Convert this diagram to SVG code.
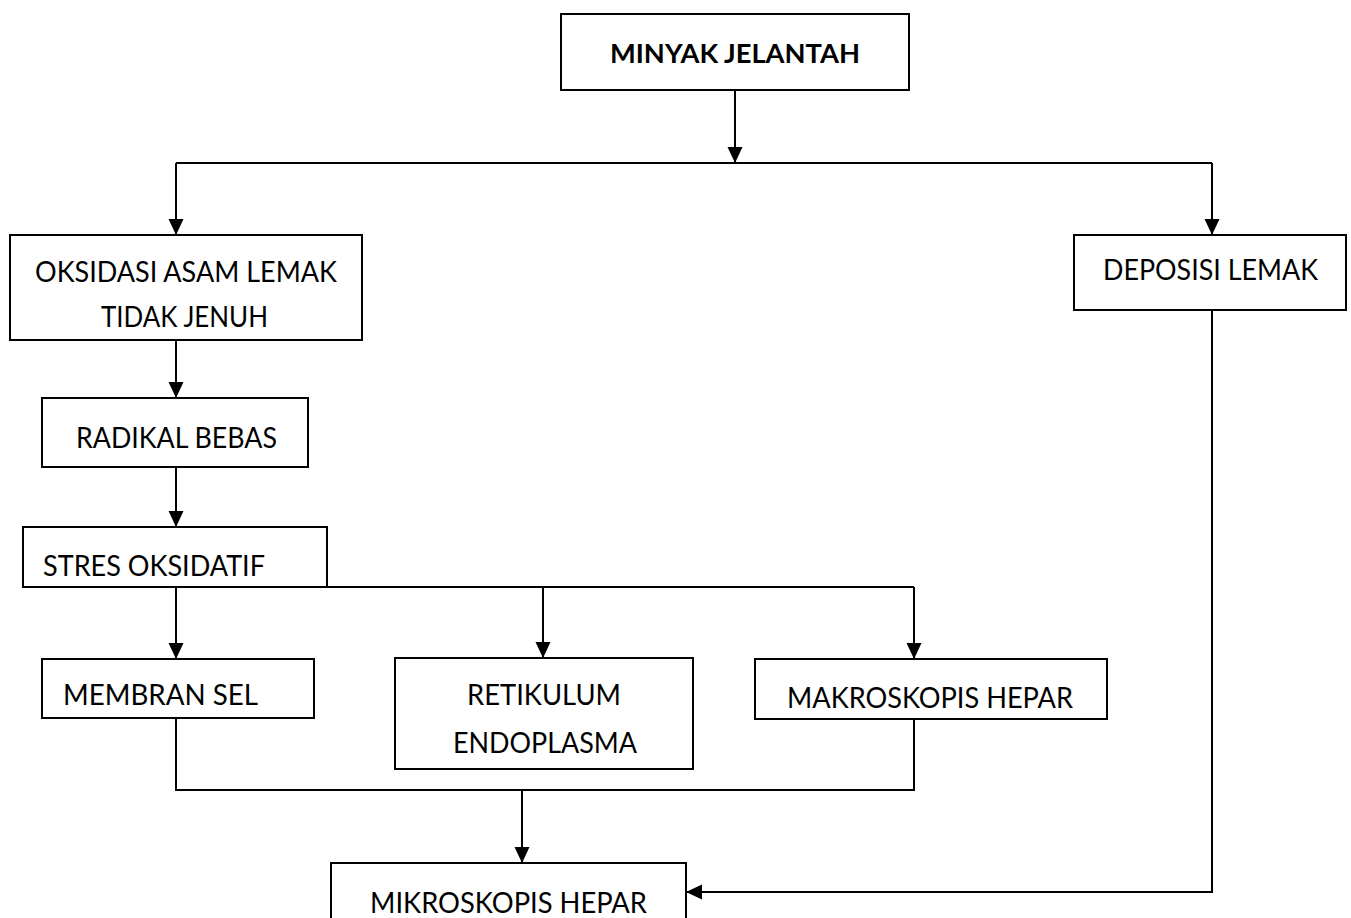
<svg xmlns="http://www.w3.org/2000/svg" width="1351" height="918" viewBox="0 0 1351 918">
<style>
.box{fill:#fff;stroke:#000;stroke-width:2}
.t{font-family:Lato,"Open Sans","Liberation Sans",sans-serif;font-size:28px;fill:#000}
.b{font-weight:bold;font-size:26px}
.c{fill:none;stroke:#000;stroke-width:2}
</style>
<defs>
<marker id="ah" markerUnits="userSpaceOnUse" markerWidth="16" markerHeight="16" viewBox="0 0 16 16" refX="16" refY="8" orient="auto">
<path d="M0,0.5 L16,8 L0,15.5 Z" fill="#000"/>
</marker>
</defs>
<rect width="1351" height="918" fill="#fff"/>
<g id="connectors">
<path class="c" d="M735,90 V163" marker-end="url(#ah)"/>
<path class="c" d="M176,163 H1212"/>
<path class="c" d="M176,163 V235" marker-end="url(#ah)"/>
<path class="c" d="M1212,163 V235" marker-end="url(#ah)"/>
<path class="c" d="M176,340 V398" marker-end="url(#ah)"/>
<path class="c" d="M176,467 V527" marker-end="url(#ah)"/>
<path class="c" d="M176,587 H914"/>
<path class="c" d="M176,587 V659" marker-end="url(#ah)"/>
<path class="c" d="M543,587 V658" marker-end="url(#ah)"/>
<path class="c" d="M914,587 V659" marker-end="url(#ah)"/>
<path class="c" d="M176,718 V790 H914 V719"/>
<path class="c" d="M522,790 V863" marker-end="url(#ah)"/>
<path class="c" d="M1212,310 V892 H686" marker-end="url(#ah)"/>
</g>
<g id="minyak">
<rect class="box" x="561" y="14" width="348" height="76"/>
<text class="t b" x="610" y="63" textLength="250" lengthAdjust="spacingAndGlyphs">MINYAK JELANTAH</text>
</g>
<g id="oksidasi">
<rect class="box" x="10" y="235" width="352" height="105"/>
<text class="t" x="35" y="282" textLength="302" lengthAdjust="spacingAndGlyphs">OKSIDASI ASAM LEMAK</text>
<text class="t" x="101" y="327" textLength="167" lengthAdjust="spacingAndGlyphs">TIDAK JENUH</text>
</g>
<g id="deposisi">
<rect class="box" x="1074" y="235" width="272" height="75"/>
<text class="t" x="1103" y="280" textLength="215" lengthAdjust="spacingAndGlyphs">DEPOSISI LEMAK</text>
</g>
<g id="radikal">
<rect class="box" x="42" y="398" width="266" height="69"/>
<text class="t" x="76" y="448" textLength="201" lengthAdjust="spacingAndGlyphs">RADIKAL BEBAS</text>
</g>
<g id="stres">
<rect class="box" x="23" y="527" width="304" height="60"/>
<text class="t" x="43" y="576" textLength="222" lengthAdjust="spacingAndGlyphs">STRES OKSIDATIF</text>
</g>
<g id="membran">
<rect class="box" x="42" y="659" width="272" height="59"/>
<text class="t" x="63" y="705" textLength="195" lengthAdjust="spacingAndGlyphs">MEMBRAN SEL</text>
</g>
<g id="retikulum">
<rect class="box" x="395" y="658" width="298" height="111"/>
<text class="t" x="467" y="705" textLength="154" lengthAdjust="spacingAndGlyphs">RETIKULUM</text>
<text class="t" x="453" y="753" textLength="184" lengthAdjust="spacingAndGlyphs">ENDOPLASMA</text>
</g>
<g id="makroskopis">
<rect class="box" x="755" y="659" width="352" height="60"/>
<text class="t" x="787" y="708" textLength="286" lengthAdjust="spacingAndGlyphs">MAKROSKOPIS HEPAR</text>
</g>
<g id="mikroskopis">
<rect class="box" x="331" y="863" width="355" height="80"/>
<text class="t" x="370" y="913" textLength="277" lengthAdjust="spacingAndGlyphs">MIKROSKOPIS HEPAR</text>
</g>
</svg>
